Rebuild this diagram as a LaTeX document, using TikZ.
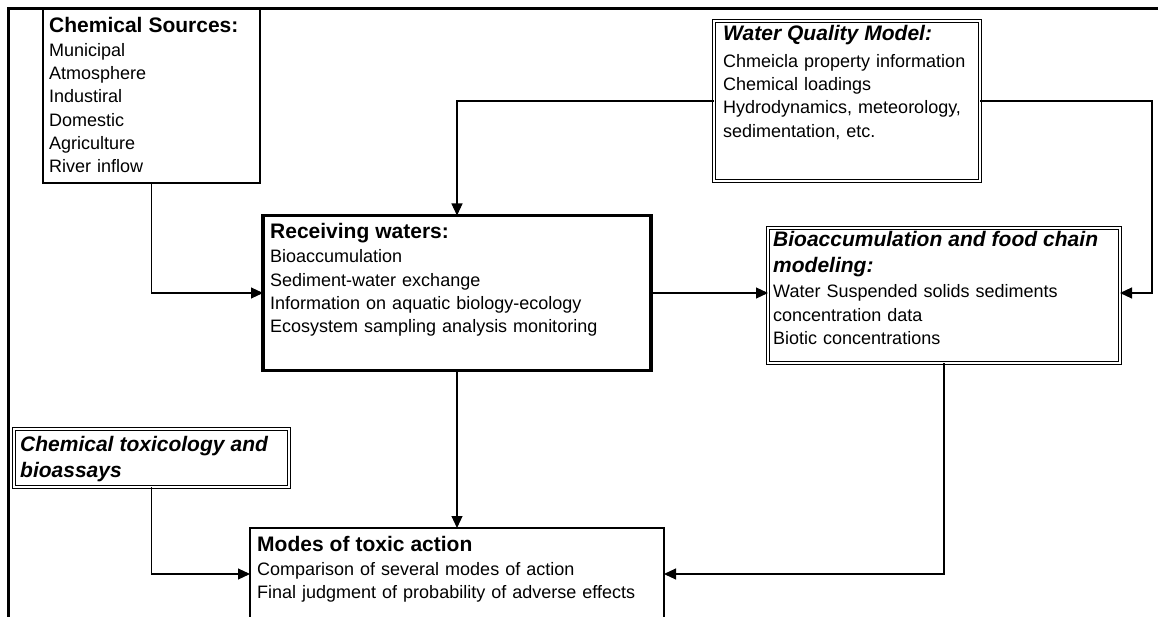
\documentclass[tikz,border=0pt]{standalone}
\usepackage{fontspec}
\setmainfont{Liberation Sans}
\usetikzlibrary{arrows.meta}
\newcommand\bodyfont{\fontsize{18}{23.3}\selectfont}
\newcommand\headfont{\fontsize{21}{27}\selectfont\bfseries}
\newcommand\headifont{\fontsize{21}{27}\selectfont\bfseries\itshape}
\newcommand\firstline{\rule{0pt}{16pt}}
\begin{document}
\begin{tikzpicture}[x=1pt,y=-1pt,
  box/.style={draw=black, line width=1.1pt, anchor=north west, inner sep=0pt, outer sep=0pt},
  dbox/.style={draw=black, double, double distance=1.8pt, line width=0.9pt, anchor=north west, inner sep=0pt, outer sep=0pt},
  mainbox/.style={draw=black, line width=3.5pt, anchor=north west, inner sep=0pt, outer sep=0pt},
  txt/.style={anchor=north west, inner sep=0pt, text width=420pt, align=left, font=\bodyfont},
  conn/.style={draw=black, line width=1.1pt},
  arr/.style={conn, -{Triangle[length=12pt,width=11pt]}},
  frame/.style={draw=black, line width=2.2pt}]

\fill[white] (0,0) rectangle (1158,617);
\useasboundingbox (0,0) rectangle (1158,617);

% outer frame (top and left edges)
\draw[frame] (8.5,640) -- (8.5,8.5) -- (1180,8.5);

% boxes
\node[box, minimum width=217pt, minimum height=174pt] (src) at (43,9) {};
\node[dbox, minimum width=266pt, minimum height=160pt] (wqm) at (714,21) {};
\node[mainbox, minimum width=388pt, minimum height=155pt] (rw) at (263,215.5) {};
\node[dbox, minimum width=352pt, minimum height=135pt] (bio) at (768,228) {};
\node[dbox, minimum width=275pt, minimum height=58pt] (tox) at (14,429) {};
\node[box, minimum width=414pt, minimum height=92pt] (modes) at (250,528) {};

% box texts
\node[txt] (srcT) at (49,16) {\firstline{\headfont Chemical Sources:}\\[0.8pt]
  Municipal\\ Atmosphere\\ Industiral\\ Domestic\\ Agriculture\\ River inflow};
\node[txt] (wqmT) at (723,24) {\firstline{\headifont Water Quality Model:}\\[3.7pt]
  Chmeicla property information\\ Chemical loadings\\
  Hydrodynamics, meteorology,\\ sedimentation, etc.};
\node[txt] (rwT) at (270,222) {\firstline{\headfont Receiving waters:}\\[1.4pt]
  Bioaccumulation\\ Sediment-water exchange\\
  Information on aquatic biology-ecology\\ Ecosystem sampling analysis monitoring};
\node[txt] (bioT) at (773,230) {\firstline{\headifont Bioaccumulation and food chain}\\[3.4pt]
  {\headifont modeling:}\\[1.7pt]
  Water Suspended solids sediments\\ concentration data\\ Biotic concentrations};
\node[txt] (toxT) at (20,435) {\firstline{\headifont Chemical toxicology and}\\[2.7pt]
  {\headifont bioassays}};
\node[txt] (modesT) at (257,535) {\firstline{\headfont Modes of toxic action}\\[0.7pt]
  Comparison of several modes of action\\
  Final judgment of probability of adverse effects};

% connectors
\coordinate (rx) at (1152,0);
\draw[arr] (src.south) |- (rw.west);
\draw[arr] (wqm.west) -| (rw.north);
\draw[arr] (wqm.east) -| (rx |- rw.east) -- (rw.east -| bio.east);
\draw[arr] (rw.east) -- (rw.east -| bio.west);
\draw[arr] (rw.south) -- (modes.north -| rw.south);
\draw[arr] (bio.south) |- (modes.east);
\draw[arr] (tox.south) |- (modes.west);
\end{tikzpicture}
\end{document}
